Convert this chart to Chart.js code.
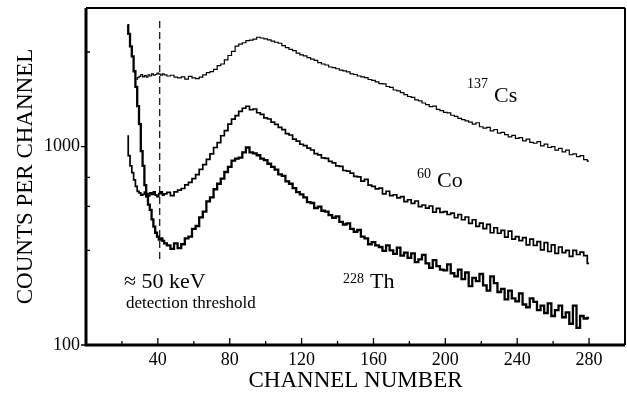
<!DOCTYPE html>
<html>
<head>
<meta charset="utf-8">
<script src="https://cdn.jsdelivr.net/npm/chart.js@4/dist/chart.umd.min.js"></script>
<style>
  html, body { margin: 0; padding: 0; background: #fff; }
  #wrap { width: 627px; height: 395px; position: relative; }
</style>
</head>
<body>
<div id="wrap"><canvas id="c" width="627" height="395"></canvas></div>
<script>
// Channel numbers (bin positions): single channels on the steep edge, then every 2nd channel
const channels = [
  23,24,25,26,27,28,29,30,31,32,
  33,34,35,36,37,38,39,40,41,42,
  43,44,
  46,48,50,52,54,56,58,60,62,64,
  66,68,70,72,74,76,78,80,82,84,
  86,88,90,92,94,96,98,100,102,104,
  106,108,110,112,114,116,118,120,122,124,
  126,128,130,132,134,136,138,140,142,144,
  146,148,150,152,154,156,158,160,162,164,
  166,168,170,172,174,176,178,180,182,184,
  186,188,190,192,194,196,198,200,202,204,
  206,208,210,212,214,216,218,220,222,224,
  226,228,230,232,234,236,238,240,242,244,
  246,248,250,252,254,256,258,260,262,264,
  266,268,270,272,274,276,278,280
];

// 137Cs counts per channel
const cs137 = [
  null,null,null,null,null,2180,2230,2260,2310,2250,
  2280,2240,2300,2270,2330,2290,2310,2350,2320,2290,
  2330,2300,
  2270,2290,2240,2220,2250,2190,2260,2220,2200,2240,
  2300,2360,2390,2450,2560,2610,2740,2880,3020,3210,
  3290,3340,3420,3440,3480,3560,3530,3490,3450,3400,
  3360,3320,3230,3160,3090,3050,2960,2900,2870,2810,
  2760,2720,2650,2610,2580,2520,2500,2470,2430,2410,
  2380,2330,2310,2270,2250,2230,2180,2160,2120,2080,
  2070,2010,1990,1930,1910,1870,1830,1790,1770,1720,
  1700,1660,1630,1590,1600,1540,1520,1490,1480,1440,
  1420,1390,1370,1350,1330,1300,1320,1260,1240,1250,
  1200,1220,1170,1180,1150,1120,1140,1100,1110,1070,
  1090,1050,1040,1060,1010,1030,990,1000,960,980,
  940,960,910,920,890,900,860,845
];

// 60Co counts per channel
const co60 = [
  1130,900,800,740,680,630,595,585,570,575,
  590,580,565,585,575,592,570,560,580,592,
  570,578,
  588,566,592,603,615,642,660,690,722,768,
  812,862,920,990,1048,1135,1205,1300,1375,1432,
  1505,1562,1598,1535,1548,1482,1455,1398,1378,1328,
  1295,1250,1218,1162,1145,1090,1065,1028,1012,982,
  962,922,908,878,872,842,828,800,796,758,
  752,736,708,704,670,684,640,630,612,618,
  578,596,566,572,552,560,528,540,518,532,
  498,508,490,502,468,488,466,470,455,462,
  438,455,428,442,410,428,396,412,386,406,
  368,390,366,378,350,375,342,352,336,348,
  320,342,318,332,302,328,296,320,290,312,
  292,300,280,300,286,294,282,258
];

// 228Th counts per channel
const th228 = [
  4100,3700,3200,2850,2400,2000,1600,1300,950,800,
  640,560,510,480,430,395,368,352,340,345,
  335,325,
  318,305,325,308,322,345,352,385,398,440,
  470,530,555,610,650,690,745,790,850,870,
  880,935,990,935,925,905,870,855,820,790,
  765,725,712,668,650,618,590,575,555,525,
  520,490,498,475,470,452,438,445,418,405,
  410,385,372,380,352,345,322,330,318,312,
  298,318,300,288,310,282,292,275,290,262,
  270,285,258,245,268,250,240,238,255,230,
  222,240,215,232,198,218,210,228,200,188,
  222,205,185,192,170,188,172,166,182,160,
  155,172,165,150,158,145,162,140,150,158,
  138,146,128,158,122,140,136,137
];

// Detection threshold marker (channel, top and bottom counts)
const thresholdChannel = [41, 41];
const thresholdCounts = [4300, 268];

// Axis ticks
const xTickValues = [40, 80, 120, 160, 200, 240, 280];
const xMinorTicks = [20, 60, 100, 140, 180, 220, 260];
const yTickValues = [100, 1000];
const yMinorTicks = [300, 500, 700, 3000];

const toPoints = (vals) => channels.map((c, i) => ({ x: c, y: vals[i] }));

const SERIF = '"Liberation Serif", "DejaVu Serif", serif';

const framePlugin = {
  id: 'frame',
  afterDatasetsDraw(chart) {
    const { ctx, chartArea: a, scales } = chart;
    const xs = scales.x, ys = scales.y;
    ctx.save();
    ctx.strokeStyle = '#000';
    ctx.lineCap = 'butt';
    ctx.lineWidth = 3;
    ctx.beginPath();
    ctx.moveTo(a.left, a.top); ctx.lineTo(a.left, a.bottom + 1.5);
    ctx.moveTo(a.left - 1.5, a.bottom); ctx.lineTo(a.right, a.bottom);
    ctx.stroke();
    ctx.lineWidth = 2;
    ctx.beginPath();
    ctx.moveTo(a.left, a.top); ctx.lineTo(a.right, a.top);
    ctx.moveTo(a.right, a.top); ctx.lineTo(a.right, a.bottom);
    ctx.stroke();
    ctx.lineWidth = 1.3;
    ctx.beginPath();
    xTickValues.forEach(v => { const p = xs.getPixelForValue(v); ctx.moveTo(p, a.bottom); ctx.lineTo(p, a.bottom - 7); });
    xMinorTicks.forEach(v => { const p = xs.getPixelForValue(v); ctx.moveTo(p, a.bottom); ctx.lineTo(p, a.bottom - 4); });
    yTickValues.forEach(v => { const p = ys.getPixelForValue(v); ctx.moveTo(a.left - 5, p); ctx.lineTo(a.left, p); });
    yMinorTicks.forEach(v => { const p = ys.getPixelForValue(v); ctx.moveTo(a.left, p); ctx.lineTo(a.left + 4, p); });
    ctx.stroke();

    ctx.fillStyle = '#000';
    ctx.textBaseline = 'alphabetic';
    ctx.textAlign = 'left';
    ctx.font = '14px ' + SERIF;
    ctx.fillText('137', 467, 88);
    ctx.fillText('60', 417, 178);
    ctx.fillText('228', 343, 283);
    ctx.font = '22px ' + SERIF;
    ctx.fillText('Cs', 494, 102);
    ctx.fillText('Co', 437, 187);
    ctx.fillText('Th', 370, 288);
    ctx.fillText('\u2248 50 keV', 124, 288);
    ctx.font = '17px ' + SERIF;
    ctx.fillText('detection threshold', 126, 308);
    ctx.restore();
  }
};

new Chart(document.getElementById('c'), {
  type: 'line',
  data: {
    datasets: [
      { label: '137Cs', data: toPoints(cs137), borderColor: '#000', borderWidth: 1.2, stepped: 'middle', pointRadius: 0, fill: false, spanGaps: false },
      { label: '60Co', data: toPoints(co60), borderColor: '#000', borderWidth: 1.7, stepped: 'middle', pointRadius: 0, fill: false },
      { label: '228Th', data: toPoints(th228), borderColor: '#000', borderWidth: 2.3, stepped: 'middle', pointRadius: 0, fill: false },
      { label: 'threshold', data: thresholdChannel.map((c, i) => ({ x: c, y: thresholdCounts[i] })), borderColor: '#222', borderWidth: 1.4, borderDash: [7, 4], pointRadius: 0, fill: false }
    ]
  },
  options: {
    responsive: false,
    animation: false,
    devicePixelRatio: 1,
    layout: { padding: { top: 8, right: 2, left: 0, bottom: 0 } },
    plugins: { legend: { display: false }, tooltip: { enabled: false } },
    scales: {
      x: {
        type: 'linear', min: 0, max: 300,
        grid: { display: false, drawTicks: false },
        border: { display: false },
        afterBuildTicks: (s) => { s.ticks = xTickValues.map(v => ({ value: v })); },
        afterFit: (s) => { s.height = 50; s.paddingLeft = 0; s.paddingRight = 0; },
        ticks: { font: { family: SERIF, size: 18 }, color: '#000', padding: 4, maxRotation: 0, autoSkip: false },
        title: { display: true, text: 'CHANNEL NUMBER', font: { family: SERIF, size: 23 }, color: '#000', padding: { top: 0, bottom: 0 } }
      },
      y: {
        type: 'logarithmic', min: 100, max: 5000,
        grid: { display: false, drawTicks: false },
        border: { display: false },
        afterBuildTicks: (s) => { s.ticks = yTickValues.map(v => ({ value: v })); },
        afterFit: (s) => { s.width = 86; s.paddingTop = 0; s.paddingBottom = 0; },
        ticks: { font: { family: SERIF, size: 18 }, color: '#000', padding: 6, autoSkip: false, callback: (v) => String(v) },
        title: { display: true, text: 'COUNTS PER CHANNEL', font: { family: SERIF, size: 23 }, color: '#000', padding: { top: 12, bottom: 0 } }
      }
    }
  },
  plugins: [framePlugin]
});
</script>
</body>
</html>
